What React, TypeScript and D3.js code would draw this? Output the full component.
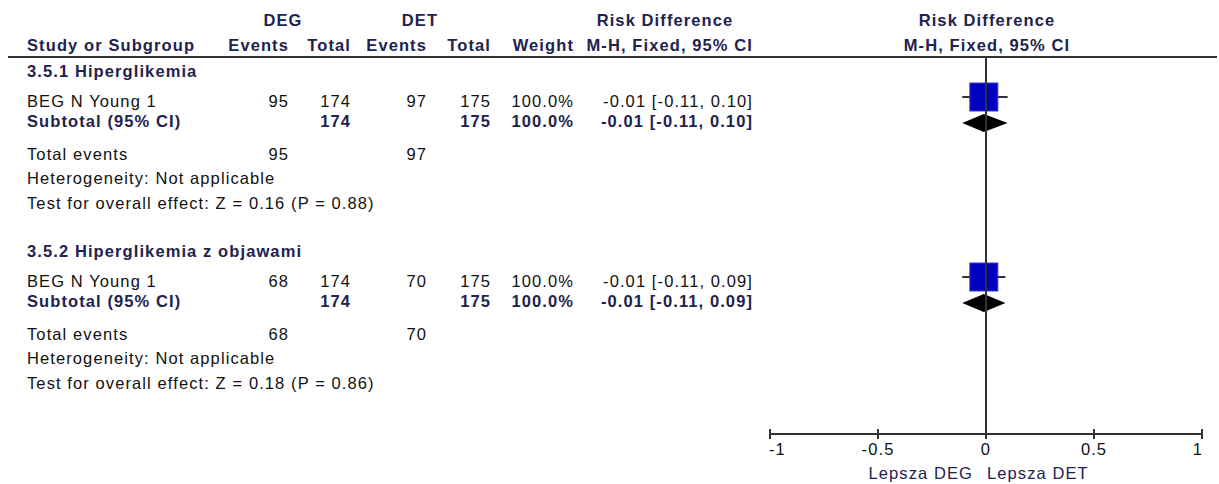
import React from "react";
import * as d3 from "d3";

// Subgroups of the risk-difference meta-analysis
const subgroups = ["3.5.1 Hiperglikemia", "3.5.2 Hiperglikemia z objawami"];
const studies = ["BEG N Young 1", "BEG N Young 1"];
const degEvents = [95, 68];
const degTotal = [174, 174];
const detEvents = [97, 70];
const detTotal = [175, 175];
const weights = [100.0, 100.0];
const rd = [-0.01, -0.01];
const rdLow = [-0.11, -0.11];
const rdHigh = [0.1, 0.09];
const overallZ = ["0.16", "0.18"];
const overallP = ["0.88", "0.86"];
const axisTicks = [-1, -0.5, 0, 0.5, 1];
const favourLeft = "Lepsza DEG";
const favourRight = "Lepsza DET";

const W = 1219;
const H = 484;
const FONT = "'Liberation Sans', Arial, sans-serif";
const NAVY = "#22224e";
const INK = "#111";

// baselines of each subgroup block's rows
const blockTop = [0, 180];
const rowY = { header: 77, study: 106.5, subtotal: 127, total: 159.5, het: 184, test: 209 };

// right edges of the numeric columns
const col = { degE: 289, degT: 351, detE: 427, detT: 491, weight: 574, rd: 753 };

const num = (v: number) => d3.format(".2f")(v).replace("\u2212", "-");
const fmtCI = (m: number, l: number, h: number) => `${num(m)} [${num(l)}, ${num(h)}]`;

export default function App() {
  const x = d3.scaleLinear().domain([-1, 1]).range([770, 1202]);
  const axisY = 434;
  const headerLineY = 57;
  const sq = 28;

  const text = (
    key: string,
    tx: number,
    ty: number,
    s: string,
    opts: { bold?: boolean; anchor?: string; color?: string } = {}
  ) => (
    <text
      key={key}
      x={tx}
      y={ty}
      fontFamily={FONT}
      fontSize={16.5}
      letterSpacing={1.1}
      fontWeight={opts.bold ? "bold" : "normal"}
      textAnchor={opts.anchor || "start"}
      fill={opts.color || (opts.bold ? NAVY : INK)}
    >
      {s}
    </text>
  );

  return (
    <svg
      width={W}
      height={H}
      style={{ position: "absolute", left: 0, top: 0, background: "#fff" }}
    >
      {/* column headers */}
      {text("hDEG", 283, 26, "DEG", { bold: true, anchor: "middle" })}
      {text("hDET", 420, 26, "DET", { bold: true, anchor: "middle" })}
      {text("hRD1", 665, 26, "Risk Difference", { bold: true, anchor: "middle" })}
      {text("hRD2", 987, 26, "Risk Difference", { bold: true, anchor: "middle" })}
      {text("hStudy", 27, 51, "Study or Subgroup", { bold: true })}
      {text("hE1", col.degE, 51, "Events", { bold: true, anchor: "end" })}
      {text("hT1", col.degT, 51, "Total", { bold: true, anchor: "end" })}
      {text("hE2", col.detE, 51, "Events", { bold: true, anchor: "end" })}
      {text("hT2", col.detT, 51, "Total", { bold: true, anchor: "end" })}
      {text("hW", col.weight, 51, "Weight", { bold: true, anchor: "end" })}
      {text("hM1", col.rd, 51, "M-H, Fixed, 95% CI", { bold: true, anchor: "end" })}
      {text("hM2", 987, 51, "M-H, Fixed, 95% CI", { bold: true, anchor: "middle" })}

      <line x1={8} x2={1217} y1={headerLineY} y2={headerLineY} stroke="#333" strokeWidth={2} />

      {subgroups.map((g, i) => {
        const o = blockTop[i];
        const yStudy = o + rowY.study;
        const ySub = o + rowY.subtotal;
        const cy = yStudy - 9.5;
        const dy = ySub - 4;
        const dh = 9;
        return (
          <g key={g}>
            {text(`g${i}`, 27, o + rowY.header, g, { bold: true })}
            {text(`s${i}`, 27, yStudy, studies[i])}
            {text(`se${i}`, col.degE, yStudy, String(degEvents[i]), { anchor: "end" })}
            {text(`st${i}`, col.degT, yStudy, String(degTotal[i]), { anchor: "end" })}
            {text(`de${i}`, col.detE, yStudy, String(detEvents[i]), { anchor: "end" })}
            {text(`dt${i}`, col.detT, yStudy, String(detTotal[i]), { anchor: "end" })}
            {text(`w${i}`, col.weight, yStudy, `${weights[i].toFixed(1)}%`, { anchor: "end" })}
            {text(`r${i}`, col.rd, yStudy, fmtCI(rd[i], rdLow[i], rdHigh[i]), { anchor: "end" })}

            {text(`sub${i}`, 27, ySub, "Subtotal (95% CI)", { bold: true })}
            {text(`subt1${i}`, col.degT, ySub, String(degTotal[i]), { bold: true, anchor: "end" })}
            {text(`subt2${i}`, col.detT, ySub, String(detTotal[i]), { bold: true, anchor: "end" })}
            {text(`subw${i}`, col.weight, ySub, `${weights[i].toFixed(1)}%`, { bold: true, anchor: "end" })}
            {text(`subr${i}`, col.rd, ySub, fmtCI(rd[i], rdLow[i], rdHigh[i]), { bold: true, anchor: "end" })}

            {text(`te${i}`, 27, o + rowY.total, "Total events")}
            {text(`te1${i}`, col.degE, o + rowY.total, String(degEvents[i]), { anchor: "end" })}
            {text(`te2${i}`, col.detE, o + rowY.total, String(detEvents[i]), { anchor: "end" })}
            {text(`het${i}`, 27, o + rowY.het, "Heterogeneity: Not applicable")}
            {text(`test${i}`, 27, o + rowY.test, `Test for overall effect: Z = ${overallZ[i]} (P = ${overallP[i]})`)}

            {/* study confidence interval and weighted square */}
            <line x1={x(rdLow[i])} x2={x(rdHigh[i])} y1={cy} y2={cy} stroke="#333" strokeWidth={2} />
            <rect
              x={x(rd[i]) - sq / 2}
              y={cy - sq / 2}
              width={sq}
              height={sq}
              fill="#0000c0"
              stroke="#3a3ad8"
              strokeWidth={1}
            />
            {/* pooled estimate diamond */}
            <path
              d={`M${x(rdLow[i])},${dy} L${x(rd[i])},${dy - dh} L${x(rdHigh[i])},${dy} L${x(rd[i])},${dy + dh} Z`}
              fill="#000"
            />
          </g>
        );
      })}

      {/* line of no effect */}
      <line x1={x(0)} x2={x(0)} y1={headerLineY} y2={axisY} stroke="#333" strokeWidth={2} />

      {/* axis */}
      <line x1={x(-1)} x2={x(1)} y1={axisY} y2={axisY} stroke="#333" strokeWidth={2} />
      {axisTicks.map((t) => (
        <line key={`tk${t}`} x1={x(t)} x2={x(t)} y1={axisY - 5} y2={axisY + 5} stroke="#333" strokeWidth={2} />
      ))}
      {axisTicks.map((t, i) =>
        text(
          `tl${t}`,
          i === 0 ? x(t) - 1 : i === axisTicks.length - 1 ? x(t) + 1 : x(t),
          455,
          d3.format("")(t).replace("\u2212", "-"),
          { anchor: i === 0 ? "start" : i === axisTicks.length - 1 ? "end" : "middle" }
        )
      )}
      {text("favL", x(0) - 13, 479, favourLeft, { anchor: "end", color: NAVY })}
      {text("favR", x(0) + 1, 479, favourRight, { anchor: "start", color: NAVY })}
    </svg>
  );
}
